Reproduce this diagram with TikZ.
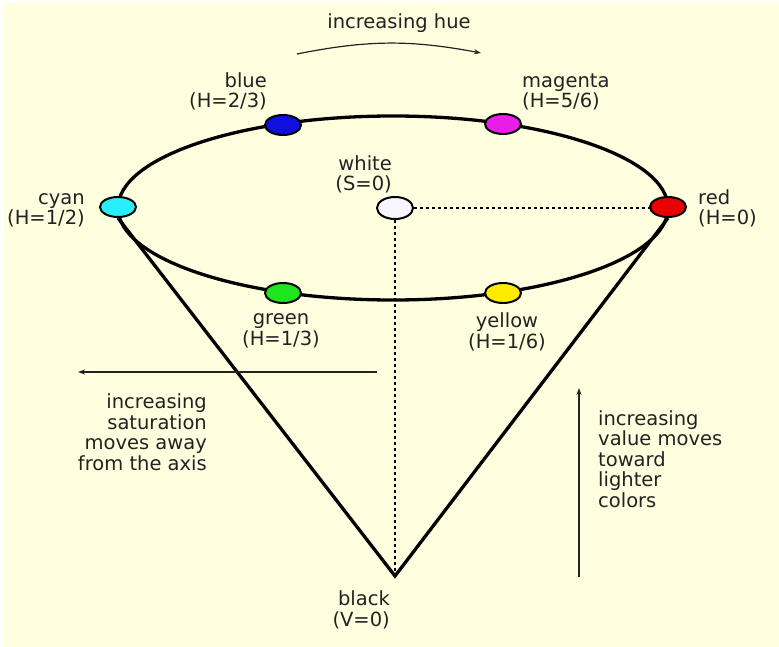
\documentclass[tikz,border=0pt]{standalone}
\usepackage{fontspec}
\setmainfont{DejaVu Sans}
\usetikzlibrary{arrows.meta,shapes.geometric,calc}

\definecolor{cream}{RGB}{255,255,224}
\definecolor{ink}{RGB}{34,34,34}
\definecolor{hcyan}{RGB}{40,238,250}
\definecolor{hblue}{RGB}{16,16,220}
\definecolor{hmagenta}{RGB}{232,30,232}
\definecolor{hred}{RGB}{235,0,0}
\definecolor{hyellow}{RGB}{255,235,0}
\definecolor{hgreen}{RGB}{30,230,30}
\definecolor{hwhite}{RGB}{248,246,255}

\begin{document}
\begin{tikzpicture}[
  x=1pt, y=-1pt,
  font=\fontsize{19.5}{20.5}\selectfont,
  >={Stealth[length=7pt,width=5pt]},
  dot/.style={ellipse, draw=black, line width=2pt, inner sep=0pt,
              minimum width=36pt, minimum height=20pt},
  lbl/.style={text=ink, inner sep=0pt},
  rim/.style={line width=3.3pt, draw=black},
  axisline/.style={line width=1.8pt, dash pattern=on 3pt off 3pt},
  flow/.style={->, draw=ink, line width=1.2pt},
]
\useasboundingbox (0,0) rectangle (779,647);
\fill[cream] (4,3) rectangle (779,647);

% cone
\coordinate (apex) at (395,576);
\draw[rim] (393,208) ellipse [x radius=275, y radius=92];

\node[dot, fill=hwhite, minimum height=22pt] (white) at (395,208) {};
\draw[axisline] (white) -- (668,208);
\draw[axisline] (white) -- (apex);

\node[dot, fill=hcyan] (cyan) at (118,207) {};
\node[dot, fill=hblue] (blue) at (283,125) {};
\node[dot, fill=hmagenta] (magenta) at (503,124) {};
\node[dot, fill=hred] (red) at (668,207) {};
\node[dot, fill=hyellow] (yellow) at (503,293) {};
\node[dot, fill=hgreen] (green) at (283,293) {};

\draw[rim, line join=miter] (cyan.south) -- (apex) -- (red.south);

% labels (base = last line)
\node[lbl, anchor=base] (huelbl) at (399,29) {increasing hue};
\node[lbl, anchor=base east, align=right] (bluelbl) at (267,108) {blue\\(H=2/3)};
\node[lbl, anchor=base west, align=left] (magentalbl) at (522,108) {magenta\\(H=5/6)};
\node[lbl, anchor=base east, align=right] (cyanlbl) at (85,225) {cyan\\(H=1/2)};
\node[lbl, anchor=base west, align=left] (redlbl) at (698,225) {red\\(H=0)};
\node[lbl, anchor=base east, align=right] (whitelbl) at (392,191) {white\\(S=0)};
\node[lbl, anchor=base, align=center] (greenlbl) at (281,345) {green\\(H=1/3)};
\node[lbl, anchor=base, align=center] (yellowlbl) at (507,348) {yellow\\(H=1/6)};
\node[lbl, anchor=base east, align=right] (satlbl) at (207,470)
  {increasing\\saturation\\moves away\\from the axis};
\node[lbl, anchor=base west, align=left] (vallbl) at (598,507)
  {increasing\\value moves\\toward\\lighter\\colors};
\node[lbl, anchor=base east, align=right] (blacklbl) at (390,626) {black\\(V=0)};

% direction arrows
\coordinate (hueL) at (297,54);
\coordinate (hueR) at (481,53);
\draw[flow] (hueL) to[bend left=11] (hueR);
\coordinate (satR) at (377,372);
\coordinate (satL) at (78,372);
\draw[flow] (satR) -- (satL);
\coordinate (valB) at (579,577);
\coordinate (valT) at (579,388);
\draw[flow] (valB) -- (valT);
\end{tikzpicture}
\end{document}
